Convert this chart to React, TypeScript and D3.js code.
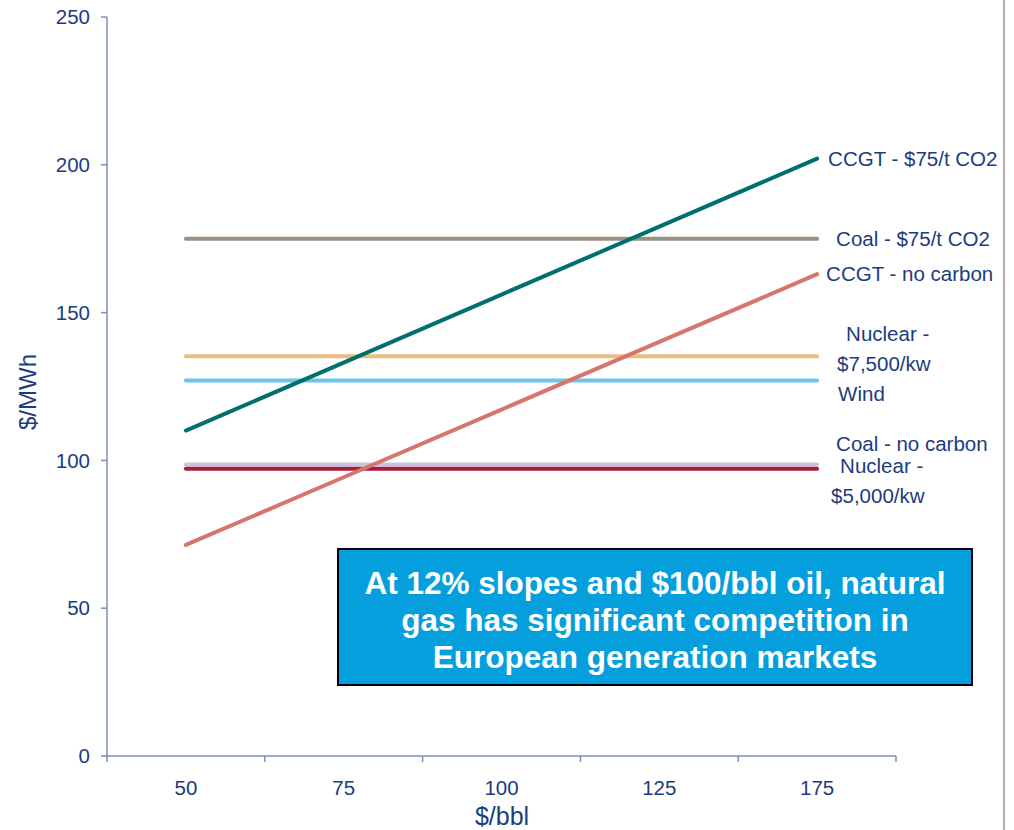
import React from "react";
import * as d3 from "d3";

const categories = ["50", "75", "100", "125", "175"];
const yTicks = [0, 50, 100, 150, 200, 250];

const seriesNames = [
  "Coal - no carbon",
  "Nuclear - $5,000/kw",
  "Wind",
  "Nuclear - $7,500/kw",
  "Coal - $75/t CO2",
  "CCGT - no carbon",
  "CCGT - $75/t CO2",
];
const coalNoCarbon = [98.6, 98.6, 98.6, 98.6, 98.6];
const nuclear5000 = [97.2, 97.2, 97.2, 97.2, 97.2];
const wind = [127, 127, 127, 127, 127];
const nuclear7500 = [135.2, 135.2, 135.2, 135.2, 135.2];
const coal75 = [175, 175, 175, 175, 175];
const ccgtNoCarbon = [71.4, 94.3, 117.2, 140.1, 163];
const ccgt75 = [110.1, 133.1, 156.1, 179.1, 202.1];
const seriesValues = [coalNoCarbon, nuclear5000, wind, nuclear7500, coal75, ccgtNoCarbon, ccgt75];
const seriesColors = ["#c5c5e3", "#a61d3d", "#6ec4ec", "#ebbd80", "#9c8f84", "#d7756c", "#00706c"];

// label layout: [lines, dx from last point, dy from last point, x shift of first line]
const labelLayout: [string[], number, number, number][] = [
  [["Coal - no carbon"], 19, -21, 0],
  [["Nuclear -", "$5,000/kw"], 14, 12, 9],
  [["Wind"], 21, 13, 0],
  [["Nuclear -", "$7,500/kw"], 20, -8, 9],
  [["Coal - $75/t CO2"], 19, 0, 0],
  [["CCGT - no carbon"], 9, 0, 0],
  [["CCGT - $75/t CO2"], 11, 0, 0],
];

const noteLines = [
  "At 12% slopes and $100/bbl oil, natural",
  "gas has significant competition in",
  "European generation markets",
];

const W = 1014;
const H = 830;
const plot = { left: 107, right: 896, top: 17, bottom: 756 };
const textColor = "#1b3d7d";
const axisColor = "#7b91b8";
const font = "'Liberation Sans', Arial, sans-serif";

export default function App() {
  const x = d3.scaleBand<string>().domain(categories).range([plot.left, plot.right]).padding(0);
  const y = d3.scaleLinear().domain([0, 250]).range([plot.bottom, plot.top]);
  const cx = (c: string) => (x(c) as number) + x.bandwidth() / 2;
  const line = d3
    .line<number>()
    .x((_, i) => cx(categories[i]))
    .y((v) => y(v));
  const boundaries = categories.map((c) => x(c) as number).concat([plot.right]);
  const lastC = categories[categories.length - 1];

  return (
    <svg
      width={W}
      height={H}
      style={{ position: "absolute", left: 0, top: 0, background: "#fff" }}
      fontFamily={font}
    >
      <rect x={0} y={0} width={W} height={H} fill="#fff" />
      <line x1={1004} x2={1004} y1={0} y2={H} stroke="#b0b0b0" strokeWidth={2} />
      {/* y axis */}
      <line x1={plot.left} x2={plot.left} y1={plot.top} y2={plot.bottom} stroke={axisColor} strokeWidth={1.5} />
      {yTicks.map((t) => (
        <g key={t}>
          <line x1={plot.left - 6} x2={plot.left} y1={y(t)} y2={y(t)} stroke={axisColor} strokeWidth={1.5} />
          <text x={90} y={y(t)} dy="0.35em" textAnchor="end" fontSize={20.5} fill={textColor}>
            {t}
          </text>
        </g>
      ))}
      {/* x axis */}
      <line x1={plot.left} x2={plot.right} y1={plot.bottom} y2={plot.bottom} stroke={axisColor} strokeWidth={1.5} />
      {boundaries.map((b, i) => (
        <line key={i} x1={b} x2={b} y1={plot.bottom} y2={plot.bottom + 6} stroke={axisColor} strokeWidth={1.5} />
      ))}
      {categories.map((c) => (
        <text key={c} x={cx(c)} y={788} dy="0.35em" textAnchor="middle" fontSize={20.5} fill={textColor}>
          {c}
        </text>
      ))}
      <text x={502} y={816} dy="0.35em" textAnchor="middle" fontSize={25} fill={textColor}>
        $/bbl
      </text>
      <text
        transform={`translate(28,392) rotate(-90)`}
        dy="0.35em"
        textAnchor="middle"
        fontSize={24}
        fill={textColor}
      >
        $/MWh
      </text>
      {/* series */}
      {seriesValues.map((vals, i) => (
        <path
          key={seriesNames[i]}
          d={line(vals) as string}
          fill="none"
          stroke={seriesColors[i]}
          strokeWidth={4}
          strokeLinecap="round"
        />
      ))}
      {/* labels */}
      {seriesValues.map((vals, i) => {
        const [lines, dx, dy, shift] = labelLayout[i];
        const lx = cx(lastC) + dx;
        const ly = y(vals[vals.length - 1]) + dy;
        const offsets = lines.length === 1 ? [0] : [-15, 15];
        return (
          <g key={"l" + i}>
            {lines.map((t, j) => (
              <text
                key={j}
                x={lx + (j === 0 ? shift : 0)}
                y={ly + offsets[j]}
                dy="0.35em"
                fontSize={20.5}
                fill={textColor}
              >
                {t}
              </text>
            ))}
          </g>
        );
      })}
      {/* note box */}
      <rect x={338} y={549} width={634} height={136} fill="#049fdc" stroke="#000" strokeWidth={2} />
      {noteLines.map((t, i) => (
        <text
          key={i}
          x={655}
          y={583 + i * 37}
          dy="0.35em"
          textAnchor="middle"
          fontSize={31.5}
          fontWeight="bold"
          fill="#fff"
        >
          {t}
        </text>
      ))}
    </svg>
  );
}
